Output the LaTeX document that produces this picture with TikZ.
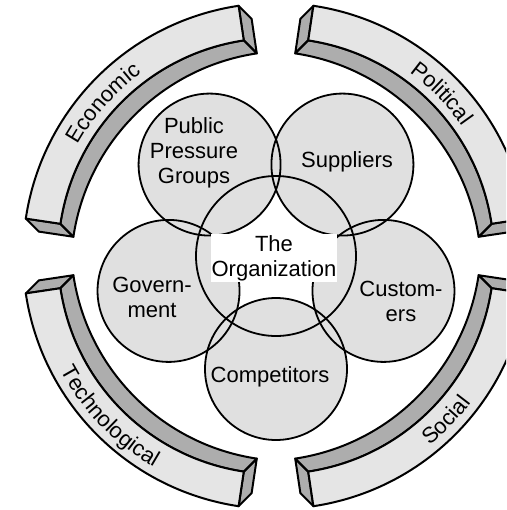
\documentclass[tikz,border=0pt]{standalone}
\usepackage{fontspec}
\setmainfont{Liberation Sans}
\usetikzlibrary{decorations.text}

\newcommand{\boxfont}{\fontsize{22}{25}\selectfont}

\begin{document}
\begin{tikzpicture}[x=1pt, y=1pt,
  facefill/.style={fill=black!10, draw=black, line width=2pt, line join=round},
  sidefill/.style={fill=black!32, draw=black, line width=2pt, line join=round},
  ring/.style={draw=black, line width=1.8pt},
  disc/.style={fill=black!12},
  word/.style={font=\boxfont, align=center, inner sep=1pt}]
\useasboundingbox (-276,-254) rectangle (230,256);
\clip (-276,-254) rectangle (230,256);

% four curved bars, each pushed back towards the middle by (\dx,\dy)
\foreach \a/\b/\dx/\dy in {98.5/171.5/13/-13, 8.5/81.5/-13/-13, 188.5/261.5/13/13, -81.5/-8.5/-13/13}{
  % end caps
  \filldraw[sidefill] (\a:253) -- (\a:218) -- ([shift={(\dx,\dy)}]\a:218) -- ([shift={(\dx,\dy)}]\a:253) -- cycle;
  \filldraw[sidefill] (\b:253) -- (\b:218) -- ([shift={(\dx,\dy)}]\b:218) -- ([shift={(\dx,\dy)}]\b:253) -- cycle;
  % inner wall
  \filldraw[sidefill] (\a:218) arc[start angle=\a, end angle=\b, radius=218]
    -- ([shift={(\dx,\dy)}]\b:218) arc[start angle=\b, end angle=\a, radius=218] -- cycle;
  % front face
  \filldraw[facefill] (\a:253) arc[start angle=\a, end angle=\b, radius=253]
    -- (\b:218) arc[start angle=\b, end angle=\a, radius=218] -- cycle;
}

% bar labels
\path[decorate, decoration={text along path, text align=center, text={|\boxfont|Economic}}]
  (173:227) arc[start angle=173, end angle=104, radius=227];
\path[decorate, decoration={text along path, text align=center, text={|\boxfont|Political}}]
  (80:227) arc[start angle=80, end angle=9, radius=227];
\path[decorate, decoration={text along path, text align=center, text={|\boxfont|Technological}}]
  (188:244) arc[start angle=188, end angle=260, radius=244];
\path[decorate, decoration={text along path, text align=center, text={|\boxfont|Social}}]
  (-80:244) arc[start angle=-80, end angle=-8, radius=244];

% the organization and the five groups round it
\coordinate (org) at (0,0);
\coordinate (ppg) at (126:113);
\coordinate (sup) at (54:113);
\coordinate (gov) at (198:113);
\coordinate (cus) at (-18:113);
\coordinate (com) at (270:113);

\fill[white] (org) circle[radius=80];
\foreach \c in {ppg,sup,gov,cus,com}
  \fill[disc] (\c) circle[radius=71];
\draw[ring] (org) circle[radius=80];
\foreach \c in {ppg,sup,gov,cus,com}
  \draw[ring] (\c) circle[radius=71];

\node[word] (ppgtext) at (-82,103) {Public\\Pressure\\Groups};
\node[word] (suptext) at (71,94) {Suppliers};
\node[word] (govtext) at (-124,-41) {Govern-\\ment};
\node[word] (custext) at (125,-45) {Custom-\\ers};
\node[word] (comtext) at (-6,-121) {Competitors};
\node[word, fill=white] (orgtext) at (-2,-2) {The\\Organization};

\end{tikzpicture}
\end{document}
